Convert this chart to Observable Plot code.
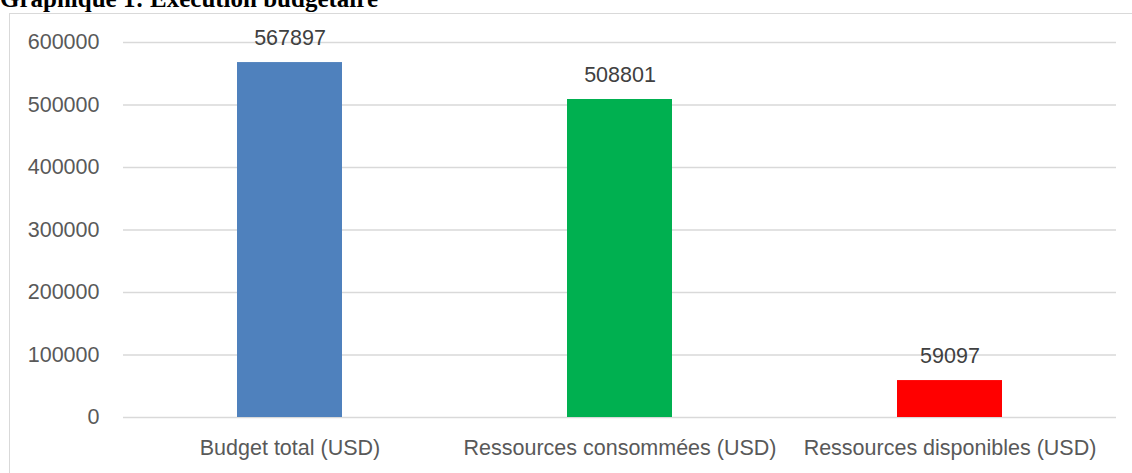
<!DOCTYPE html>
<html>
<head>
<meta charset="utf-8">
<script src="https://cdn.jsdelivr.net/npm/d3@7"></script>
<script src="https://cdn.jsdelivr.net/npm/@observablehq/plot@0.6"></script>
<style>
  html, body { margin: 0; padding: 0; background: #fff; overflow: hidden; }
  #wrap { position: relative; width: 1132px; height: 473px; }
  #title { position: absolute; left: 0; top: -15px; font-family: "Liberation Serif", "Times New Roman", serif; font-weight: bold; font-size: 25px; color: #000; white-space: nowrap; }
  #box { position: absolute; left: 9px; top: 13px; width: 1140px; height: 480px; border: 1.5px solid #d9d9d9; box-sizing: border-box; }
  #chart { position: absolute; left: 0; top: 0; }
</style>
</head>
<body>
<div id="wrap">
  <div id="box"></div>
  <div id="chart"></div>
  <div id="title">Graphique 1: Exécution budgétaire</div>
</div>
<script>
const categories = ["Budget total (USD)", "Ressources consommées (USD)", "Ressources disponibles (USD)"];
const values = [567897, 508801, 59097];
const colors = ["#4F81BD", "#00B050", "#FF0000"];
const yTicks = [0, 100000, 200000, 300000, 400000, 500000, 600000];

const data = categories.map((c, i) => ({category: c, value: values[i], color: colors[i]}));

const chart = Plot.plot({
  width: 1132,
  height: 473,
  marginLeft: 123,
  marginRight: 16,
  marginTop: 42,
  marginBottom: 56,
  style: {fontFamily: "'Liberation Sans', Arial, sans-serif", fontSize: "21.5px", color: "#595959", background: "transparent"},
  x: {domain: categories, paddingInner: 0.683, paddingOuter: 0.342, label: null},
  y: {domain: [0, 600000], label: null},
  marks: [
    Plot.gridY(yTicks, {stroke: "#d9d9d9", strokeOpacity: 1, strokeWidth: 1.5}),
    Plot.axisY(yTicks, {tickSize: 0, tickPadding: 24, tickFormat: d3.format("d"), label: null, fill: "#595959"}),
    Plot.axisX({tickSize: 0, tickPadding: 22, label: null, fill: "#595959"}),
    Plot.barY(data, {x: "category", y: "value", fill: "color"}),
    Plot.text(data, {x: "category", y: "value", text: d => String(d.value), dy: -24, fill: "#404040", fontSize: 21.5})
  ]
});
document.getElementById("chart").appendChild(chart);
</script>
</body>
</html>
